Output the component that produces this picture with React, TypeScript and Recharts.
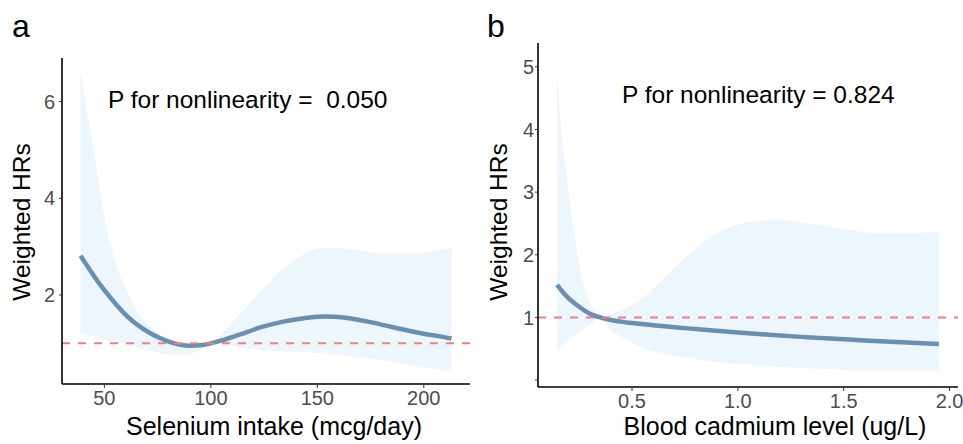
import React from 'react';
import { ComposedChart, Area, Line, XAxis, YAxis, ReferenceLine } from 'recharts';

// panel a: selenium intake
const seX = [38.8, 45, 50, 56, 61, 65, 70, 76, 82, 88, 95, 100, 105, 112, 118, 124, 134, 142, 150, 158, 165, 175, 184, 192, 200, 207, 213];
const seHR = [2.81, 2.4, 2.1, 1.78, 1.55, 1.4, 1.25, 1.11, 1.01, 0.955, 0.96, 1.0, 1.06, 1.16, 1.25, 1.34, 1.45, 1.51, 1.55, 1.55, 1.52, 1.44, 1.35, 1.27, 1.2, 1.15, 1.1];
const seUpper = [6.6, 4.98, 3.6, 2.56, 2.05, 1.67, 1.42, 1.19, 1.07, 1.01, 1.02, 1.0, 1.2, 1.53, 1.81, 2.1, 2.56, 2.8, 2.95, 2.97, 2.95, 2.88, 2.84, 2.84, 2.87, 2.92, 2.98];
const seLower = [1.22, 1.14, 1.08, 1.02, 0.97, 0.92, 0.86, 0.8, 0.77, 0.77, 0.86, 1.0, 0.97, 0.93, 0.88, 0.86, 0.83, 0.82, 0.8, 0.78, 0.74, 0.69, 0.63, 0.57, 0.51, 0.46, 0.42];
const seXTicks = [50, 100, 150, 200];
const seYTicks = [2, 4, 6];

// panel b: blood cadmium
const cdX = [0.146, 0.16, 0.18, 0.2, 0.22, 0.25, 0.28, 0.31, 0.35, 0.4, 0.45, 0.5, 0.6, 0.7, 0.8, 0.9, 1.0, 1.1, 1.2, 1.3, 1.4, 1.5, 1.6, 1.7, 1.8, 1.9, 1.95];
const cdHR = [1.52, 1.46, 1.38, 1.31, 1.25, 1.17, 1.1, 1.045, 1.0, 0.96, 0.933, 0.91, 0.875, 0.845, 0.815, 0.787, 0.76, 0.735, 0.712, 0.69, 0.67, 0.651, 0.633, 0.616, 0.6, 0.585, 0.578];
const cdUpper = [4.9, 4.22, 3.55, 3.05, 2.5, 1.85, 1.42, 1.17, 1.0, 1.05, 1.12, 1.2, 1.46, 1.79, 2.1, 2.34, 2.48, 2.54, 2.55, 2.52, 2.47, 2.41, 2.36, 2.34, 2.34, 2.36, 2.37];
const cdLower = [0.48, 0.52, 0.58, 0.64, 0.69, 0.76, 0.84, 0.91, 1.0, 0.8, 0.69, 0.6, 0.46, 0.395, 0.335, 0.29, 0.26, 0.235, 0.21, 0.195, 0.18, 0.17, 0.165, 0.16, 0.15, 0.145, 0.14];
const cdXTicks = [0.5, 1.0, 1.5, 2.0];
const cdYTicks = [0, 1, 2, 3, 4, 5];

const FONT = '"Liberation Sans", Arial, sans-serif';
const BAND = '#EDF5FD';
const CURVE = '#6B8FB0';
const REF = '#F08080';

const build = (xs: number[], hr: number[], lo: number[], hi: number[]) =>
  xs.map((x, i) => ({ x, hr: hr[i], band: [lo[i], hi[i]] }));

const tickStyle = { fontSize: 20, fill: '#4D4D4D', fontFamily: FONT };

export default function App() {
  const dataA = build(seX, seHR, seLower, seUpper);
  const dataB = build(cdX, cdHR, cdLower, cdUpper);

  return (
    <div style={{ position: 'absolute', left: 0, top: 0, width: 963, height: 444, background: '#fff', fontFamily: FONT }}>
      <div style={{ position: 'absolute', left: 0, top: 0 }}>
        <ComposedChart width={480} height={444} data={dataA} margin={{ top: 58, right: 10, left: 0, bottom: 0 }}>
          <XAxis
            dataKey="x"
            type="number"
            domain={[30.1, 221.7]}
            allowDataOverflow
            ticks={seXTicks}
            height={60}
            tick={tickStyle}
            tickSize={4}
            tickMargin={3}
            axisLine={{ stroke: '#000', strokeWidth: 1.6 }}
            tickLine={{ stroke: '#333' }}
          />
          <YAxis
            type="number"
            domain={[0.16, 6.9]}
            allowDataOverflow
            ticks={seYTicks}
            width={62}
            tick={tickStyle}
            tickSize={3}
            tickMargin={4}
            axisLine={{ stroke: '#000', strokeWidth: 1.6 }}
            tickLine={{ stroke: '#333' }}
          />
          <Area dataKey="band" type="monotone" stroke="none" fill={BAND} fillOpacity={1} isAnimationActive={false} />
          <Line dataKey="hr" type="natural" stroke={CURVE} strokeWidth={4.5} dot={false} isAnimationActive={false} />
          <ReferenceLine y={1} stroke={REF} strokeWidth={2} strokeDasharray="8 8" />
        </ComposedChart>
      </div>
      <div style={{ position: 'absolute', left: 480, top: 0 }}>
        <ComposedChart width={483} height={444} data={dataB} margin={{ top: 43, right: 5, left: 0, bottom: 0 }}>
          <XAxis
            dataKey="x"
            type="number"
            domain={[0.056, 2.04]}
            allowDataOverflow
            ticks={cdXTicks}
            tickFormatter={(v: number) => v.toFixed(1)}
            height={57}
            tick={tickStyle}
            tickSize={4}
            tickMargin={3}
            axisLine={{ stroke: '#000', strokeWidth: 1.6 }}
            tickLine={{ stroke: '#333' }}
          />
          <YAxis
            type="number"
            domain={[-0.11, 5.38]}
            allowDataOverflow
            ticks={cdYTicks}
            tickFormatter={(v: number) => (v === 0 ? '' : String(v))}
            width={58}
            tick={tickStyle}
            tickSize={3}
            tickMargin={1}
            axisLine={{ stroke: '#000', strokeWidth: 1.6 }}
            tickLine={{ stroke: '#333' }}
          />
          <Area dataKey="band" type="monotone" stroke="none" fill={BAND} fillOpacity={1} isAnimationActive={false} />
          <Line dataKey="hr" type="natural" stroke={CURVE} strokeWidth={4.5} dot={false} isAnimationActive={false} />
          <ReferenceLine y={1} stroke={REF} strokeWidth={2} strokeDasharray="8 8" />
        </ComposedChart>
      </div>
      <svg width={963} height={444} style={{ position: 'absolute', left: 0, top: 0, pointerEvents: 'none' }}>
        <g fontFamily={FONT} fill="#000">
          <text x={12} y={37} fontSize={32}>a</text>
          <text x={487} y={37} fontSize={32}>b</text>
          <text x={108} y={108} fontSize={24.5} style={{ whiteSpace: 'pre' }}>P for nonlinearity =  0.050</text>
          <text x={622} y={103} fontSize={24.5}>P for nonlinearity = 0.824</text>
          <text x={274} y={435} fontSize={25} textAnchor="middle">Selenium intake (mcg/day)</text>
          <text x={775} y={435} fontSize={25} textAnchor="middle">Blood cadmium level (ug/L)</text>
          <text transform="translate(30,222) rotate(-90)" fontSize={24.5} textAnchor="middle">Weighted HRs</text>
          <text transform="translate(507,222) rotate(-90)" fontSize={24.5} textAnchor="middle">Weighted HRs</text>
        </g>
      </svg>
    </div>
  );
}
